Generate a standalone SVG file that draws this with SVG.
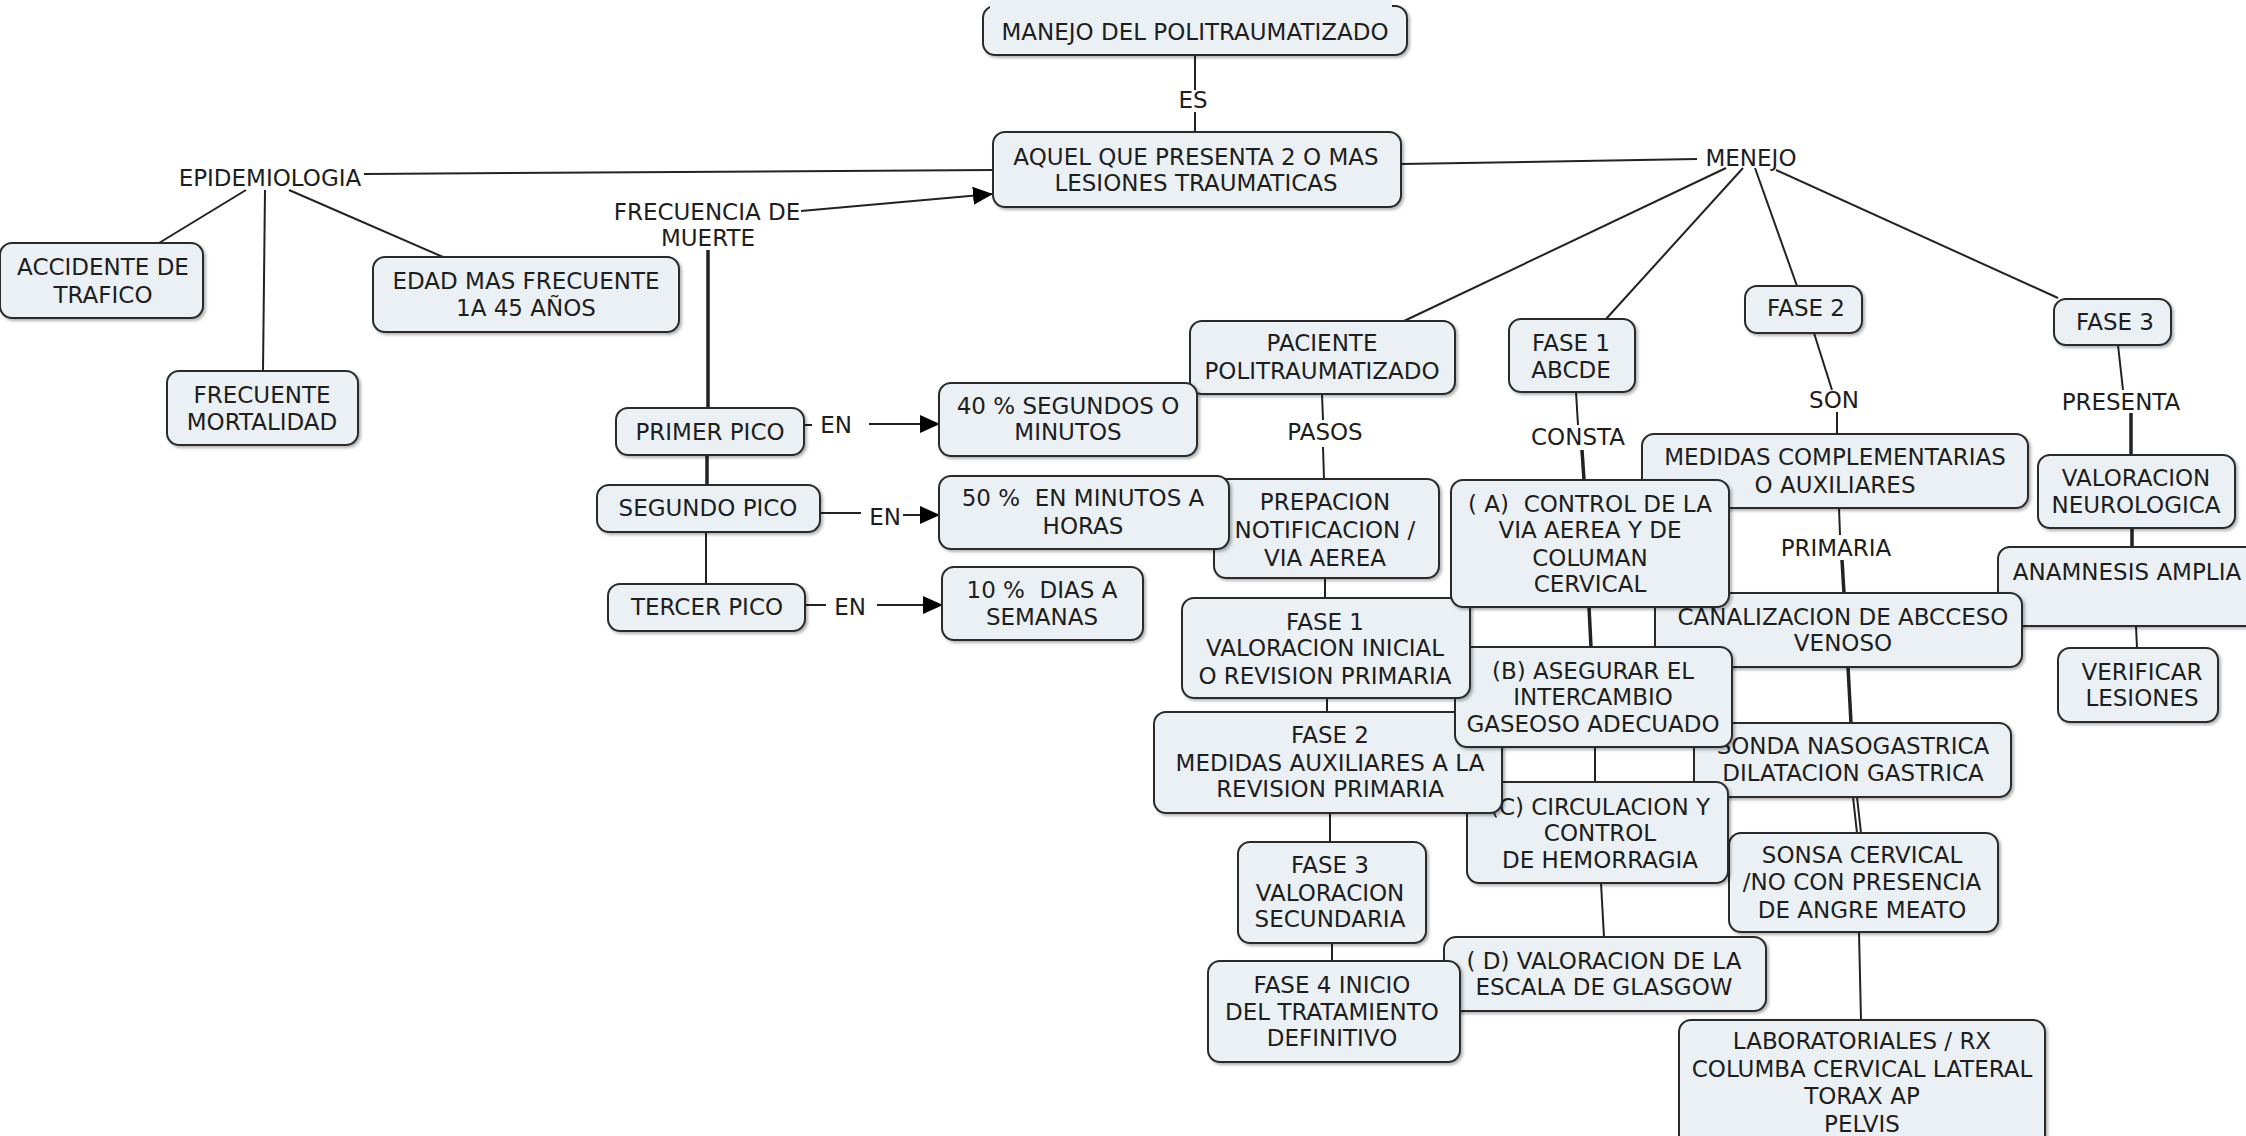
<svg xmlns="http://www.w3.org/2000/svg" width="2246" height="1136" viewBox="0 0 2246 1136">
<style>
.n rect{fill:#eaf0f4;stroke:#2b2b2b;stroke-width:2;filter:url(#sh)}
text{font-family:"DejaVu Sans","Liberation Sans",sans-serif;font-size:23px;fill:#1e1e1e;text-anchor:middle}
.c line{stroke:#222;stroke-width:2;fill:none}
.c line.t{stroke-width:3.5}
.c line.a{marker-end:url(#ah)}
</style>
<defs>
<filter id="sh" x="-10%" y="-10%" width="130%" height="140%"><feDropShadow dx="2" dy="2" stdDeviation="1.5" flood-color="#000" flood-opacity="0.3"/></filter>
<marker id="ah" markerUnits="userSpaceOnUse" markerWidth="20" markerHeight="18" refX="19" refY="9" orient="auto"><path d="M0,0 L20,9 L0,18 Z" fill="#000"/></marker>
</defs>
<rect width="2246" height="1136" fill="#fff"/>
<g class="c" id="connectors">
<line x1="1195" y1="55" x2="1195" y2="90"/>
<line x1="1195" y1="112" x2="1195" y2="132"/>
<line x1="364" y1="174" x2="993" y2="170"/>
<line x1="1401" y1="164" x2="1697" y2="159"/>
<line class="a" x1="801" y1="211" x2="992" y2="194"/>
<line x1="246" y1="190" x2="159" y2="243"/>
<line x1="265" y1="190" x2="263" y2="371"/>
<line x1="289" y1="190" x2="443" y2="257"/>
<line class="t" x1="708" y1="250" x2="708" y2="408"/>
<line class="t" x1="707" y1="455" x2="707" y2="485"/>
<line x1="706" y1="532" x2="706" y2="584"/>
<line x1="804" y1="425" x2="812" y2="425"/>
<line class="a" x1="869" y1="424" x2="939" y2="424"/>
<line x1="820" y1="513" x2="861" y2="513"/>
<line class="a" x1="903" y1="515" x2="939" y2="515"/>
<line x1="805" y1="605" x2="826" y2="605"/>
<line class="a" x1="877" y1="605" x2="942" y2="605"/>
<line x1="1726" y1="168" x2="1404" y2="321"/>
<line x1="1743" y1="168" x2="1606" y2="319"/>
<line x1="1755" y1="168" x2="1797" y2="286"/>
<line x1="1776" y1="170" x2="2058" y2="298"/>
<line x1="1322" y1="394" x2="1323" y2="420"/>
<line x1="1323" y1="447" x2="1324" y2="479"/>
<line x1="1325" y1="578" x2="1325" y2="598"/>
<line x1="1327" y1="698" x2="1327" y2="712"/>
<line x1="1330" y1="813" x2="1330" y2="842"/>
<line x1="1332" y1="943" x2="1332" y2="961"/>
<line x1="1576" y1="392" x2="1578" y2="425"/>
<line class="t" x1="1582" y1="450" x2="1584" y2="480"/>
<line class="t" x1="1589" y1="607" x2="1591" y2="647"/>
<line x1="1595" y1="747" x2="1595" y2="782"/>
<line x1="1601" y1="883" x2="1604" y2="937"/>
<line x1="1814" y1="333" x2="1832" y2="390"/>
<line x1="1837" y1="412" x2="1837" y2="434"/>
<line x1="1839" y1="508" x2="1840" y2="535"/>
<line class="t" x1="1842" y1="560" x2="1844" y2="593"/>
<line class="t" x1="1848" y1="667" x2="1851" y2="723"/>
<line x1="1853" y1="797" x2="1857" y2="833"/>
<line x1="1857" y1="797" x2="1861" y2="833"/>
<line x1="1859" y1="932" x2="1861" y2="1020"/>
<line x1="2118" y1="345" x2="2123" y2="390"/>
<line class="t" x1="2131" y1="413" x2="2131" y2="455"/>
<line class="t" x1="2132" y1="528" x2="2132" y2="547"/>
<line x1="2136" y1="626" x2="2137" y2="648"/>
</g>
<g id="labels">
<text x="1193" y="108">ES</text>
<text x="270" y="186">EPIDEMIOLOGIA</text>
<text x="1751" y="166">MENEJO</text>
<text x="707" y="220">FRECUENCIA DE</text>
<text x="708" y="246">MUERTE</text>
<text x="836" y="433">EN</text>
<text x="885" y="525">EN</text>
<text x="850" y="615">EN</text>
<text x="1325" y="440">PASOS</text>
<text x="1578" y="445">CONSTA</text>
<text x="1834" y="408">SON</text>
<text x="1836" y="556">PRIMARIA</text>
<text x="2121" y="410">PRESENTA</text>
</g>
<g class="n" id="n_manejo"><rect x="983" y="6" width="424" height="49" rx="12"/><rect x="990" y="0" width="402" height="10" fill="#fff" style="stroke:none;filter:none"/><text x="1195" y="40">MANEJO DEL POLITRAUMATIZADO</text></g>
<g class="n" id="n_aquel"><rect x="993" y="132" width="408" height="75" rx="12"/><text x="1196" y="165">AQUEL QUE PRESENTA 2 O MAS</text><text x="1196" y="191">LESIONES TRAUMATICAS</text></g>
<g class="n" id="n_accidente"><rect x="0" y="243" width="203" height="75" rx="12"/><text x="103" y="275">ACCIDENTE DE</text><text x="103" y="303">TRAFICO</text></g>
<g class="n" id="n_frecuente"><rect x="167" y="371" width="191" height="74" rx="12"/><text x="262" y="403">FRECUENTE</text><text x="262" y="430">MORTALIDAD</text></g>
<g class="n" id="n_edad"><rect x="373" y="257" width="306" height="75" rx="12"/><text x="526" y="289">EDAD MAS FRECUENTE</text><text x="526" y="316">1A 45 AÑOS</text></g>
<g class="n" id="n_primer"><rect x="616" y="408" width="188" height="47" rx="12"/><text x="710" y="440">PRIMER PICO</text></g>
<g class="n" id="n_segundo"><rect x="597" y="485" width="223" height="47" rx="12"/><text x="708" y="516">SEGUNDO PICO</text></g>
<g class="n" id="n_tercer"><rect x="608" y="584" width="197" height="47" rx="12"/><text x="707" y="615">TERCER PICO</text></g>
<g class="n" id="n_paciente"><rect x="1190" y="321" width="265" height="73" rx="12"/><text x="1322" y="351">PACIENTE</text><text x="1322" y="379">POLITRAUMATIZADO</text></g>
<g class="n" id="n_40"><rect x="939" y="383" width="258" height="73" rx="12"/><text x="1068" y="414">40 % SEGUNDOS O</text><text x="1068" y="440">MINUTOS</text></g>
<g class="n" id="n_prepacion"><rect x="1214" y="479" width="225" height="99" rx="12"/><text x="1325" y="510">PREPACION</text><text x="1325" y="538">NOTIFICACION /</text><text x="1325" y="566">VIA AEREA</text></g>
<g class="n" id="n_50"><rect x="939" y="476" width="290" height="73" rx="12"/><text x="1083" y="506" xml:space="preserve">50 %  EN MINUTOS A</text><text x="1083" y="534">HORAS</text></g>
<g class="n" id="n_10"><rect x="942" y="567" width="201" height="73" rx="12"/><text x="1042" y="598" xml:space="preserve">10 %  DIAS A</text><text x="1042" y="625">SEMANAS</text></g>
<g class="n" id="n_f1abcde"><rect x="1509" y="319" width="126" height="73" rx="12"/><text x="1571" y="351">FASE 1</text><text x="1571" y="378">ABCDE</text></g>
<g class="n" id="n_fase2"><rect x="1745" y="286" width="117" height="47" rx="12"/><text x="1806" y="316">FASE 2</text></g>
<g class="n" id="n_fase3"><rect x="2054" y="299" width="117" height="46" rx="12"/><text x="2115" y="330">FASE 3</text></g>
<g class="n" id="n_neuro"><rect x="2038" y="455" width="197" height="73" rx="12"/><text x="2136" y="486">VALORACION</text><text x="2136" y="513">NEUROLOGICA</text></g>
<g class="n" id="n_medidas"><rect x="1642" y="434" width="386" height="74" rx="12"/><text x="1835" y="465">MEDIDAS COMPLEMENTARIAS</text><text x="1835" y="493">O AUXILIARES</text></g>
<g class="n" id="n_anam"><rect x="1998" y="547" width="270" height="79" rx="12"/><text x="2127" y="580">ANAMNESIS AMPLIA</text></g>
<g class="n" id="n_verif"><rect x="2058" y="648" width="160" height="74" rx="12"/><text x="2142" y="680">VERIFICAR</text><text x="2142" y="706">LESIONES</text></g>
<g class="n" id="n_canal"><rect x="1655" y="593" width="367" height="74" rx="12"/><text x="1843" y="625">CANALIZACION DE ABCCESO</text><text x="1843" y="651">VENOSO</text></g>
<g class="n" id="n_sonda"><rect x="1694" y="723" width="317" height="74" rx="12"/><text x="1853" y="754">SONDA NASOGASTRICA</text><text x="1853" y="781">DILATACION GASTRICA</text></g>
<g class="n" id="n_sonsa"><rect x="1729" y="833" width="269" height="99" rx="12"/><text x="1862" y="863">SONSA CERVICAL</text><text x="1862" y="890">/NO CON PRESENCIA</text><text x="1862" y="918">DE ANGRE MEATO</text></g>
<g class="n" id="n_lab"><rect x="1679" y="1020" width="366" height="140" rx="12"/><text x="1862" y="1049">LABORATORIALES / RX</text><text x="1862" y="1077">COLUMBA CERVICAL LATERAL</text><text x="1862" y="1104">TORAX AP</text><text x="1862" y="1132">PELVIS</text></g>
<g class="n" id="n_d"><rect x="1444" y="937" width="322" height="74" rx="12"/><text x="1604" y="969">( D) VALORACION DE LA</text><text x="1604" y="995">ESCALA DE GLASGOW</text></g>
<g class="n" id="n_f4"><rect x="1208" y="961" width="252" height="101" rx="12"/><text x="1332" y="993">FASE 4 INICIO</text><text x="1332" y="1020">DEL TRATAMIENTO</text><text x="1332" y="1046">DEFINITIVO</text></g>
<g class="n" id="n_f3val"><rect x="1238" y="842" width="188" height="101" rx="12"/><text x="1330" y="873">FASE 3</text><text x="1330" y="901">VALORACION</text><text x="1330" y="927">SECUNDARIA</text></g>
<g class="n" id="n_c"><rect x="1467" y="782" width="261" height="101" rx="12"/><text x="1600" y="815">(C) CIRCULACION Y</text><text x="1600" y="841">CONTROL</text><text x="1600" y="868">DE HEMORRAGIA</text></g>
<g class="n" id="n_f2med"><rect x="1154" y="712" width="348" height="101" rx="12"/><text x="1330" y="743">FASE 2</text><text x="1330" y="771">MEDIDAS AUXILIARES A LA</text><text x="1330" y="797">REVISION PRIMARIA</text></g>
<g class="n" id="n_b"><rect x="1455" y="647" width="277" height="100" rx="12"/><text x="1593" y="679">(B) ASEGURAR EL</text><text x="1593" y="705">INTERCAMBIO</text><text x="1593" y="732">GASEOSO ADECUADO</text></g>
<g class="n" id="n_f1val"><rect x="1182" y="598" width="288" height="100" rx="12"/><text x="1325" y="630">FASE 1</text><text x="1325" y="656">VALORACION INICIAL</text><text x="1325" y="684">O REVISION PRIMARIA</text></g>
<g class="n" id="n_a"><rect x="1451" y="480" width="278" height="127" rx="12"/><text x="1590" y="512" xml:space="preserve">( A)  CONTROL DE LA</text><text x="1590" y="538">VIA AEREA Y DE</text><text x="1590" y="566">COLUMAN</text><text x="1590" y="592">CERVICAL</text></g>
</svg>
